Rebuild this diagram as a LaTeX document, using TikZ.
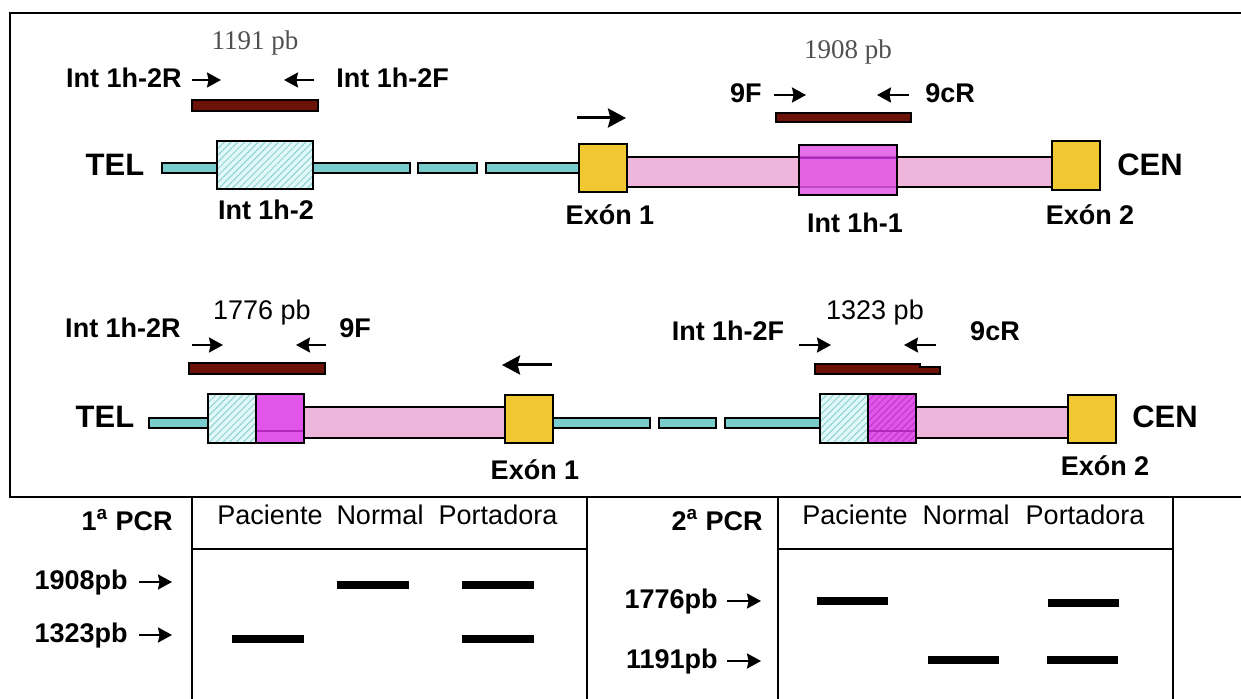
\documentclass[tikz,border=0pt]{standalone}
\usepackage{fontspec}
\setmainfont{Liberation Sans}
\newfontfamily\pbserif{Liberation Serif}
\usetikzlibrary{arrows.meta,patterns.meta}

\definecolor{tealbar}{RGB}{122,204,204}
\definecolor{hatchbg}{RGB}{226,247,247}
\definecolor{hatchln}{RGB}{140,212,212}
\definecolor{pinkbar}{RGB}{238,182,218}
\definecolor{magfill}{RGB}{224,86,232}
\definecolor{magline}{RGB}{176,40,190}
\definecolor{exongold}{RGB}{242,200,50}
\definecolor{ampred}{RGB}{108,18,8}
\definecolor{pbgray}{RGB}{80,80,80}

\begin{document}
\begin{tikzpicture}[x=0.5pt, y=-0.5pt,
    lbl/.style={font=\fontsize{13.5}{16}\selectfont\bfseries, inner sep=0pt, text height=0.72em, text depth=0pt},
    plain/.style={font=\fontsize{13.5}{16}\selectfont, inner sep=0pt, text height=0.72em, text depth=0pt},
    big/.style={font=\fontsize{15.5}{18}\selectfont\bfseries, inner sep=0pt, text height=0.72em, text depth=0pt},
    pbser/.style={font=\fontsize{13.5}{16}\selectfont\pbserif, text=pbgray, inner sep=0pt, text height=0.68em, text depth=0pt},
    cyanbar/.style={fill=tealbar, draw=black, line width=1pt},
    hatchbox/.style={preaction={fill=hatchbg}, pattern={Lines[angle=45,distance=2.4pt,line width=0.5pt]}, pattern color=hatchln, draw=black, line width=1pt},
    hatchmag/.style={preaction={fill=magfill}, pattern={Lines[angle=45,distance=2.4pt,line width=0.5pt]}, pattern color=magline!70!magfill, draw=black, line width=1pt},
    pinkseg/.style={fill=pinkbar, draw=black, line width=1pt},
    magbox/.style={fill=magfill, draw=black, line width=1pt},
    exonbox/.style={fill=exongold, draw=black, line width=1pt},
    ampbar/.style={fill=ampred, draw=black, line width=0.6pt},
    primer/.style={-{Stealth[length=7pt,width=7.5pt,inset=0.8pt]}, line width=1.1pt},
    dirarrow/.style={-{Stealth[length=9pt,width=9.5pt,inset=1.2pt]}, line width=1.5pt},
    band/.style={line width=3.6pt},
    rule/.style={line width=1pt}]
    \useasboundingbox (0,0) rectangle (1241,699);

    % Marco superior
    \draw[line width=1.2pt] (1250,13) -- (10,13) -- (10,497) -- (1250,497);

    % Fila 1: cromosoma normal
    \draw[cyanbar] (162,163) rectangle (217,173);
    \draw[hatchbox] (217,141) rectangle (313,189);
    \draw[cyanbar] (313,163) rectangle (410,173);
    \draw[cyanbar] (418,163) rectangle (477,173);
    \draw[cyanbar] (486,163) rectangle (579,173);
    \draw[pinkseg] (627,157) rectangle (1052,187);
    \draw[exonbox] (579,144) rectangle (627,192);
    \draw[magbox, fill opacity=.85] (799,145) rectangle (897,195);
    \draw[magline, line width=.6pt] (800,158) -- (896,158);
    \draw[exonbox] (1052,141) rectangle (1100,190);

    \node[big] (tel1) at (115,168) {TEL};
    \node[big] (cen1) at (1150,168) {CEN};
    \node[lbl] (int2a) at (266,212) {Int 1h-2};
    \node[lbl] (exa1) at (610,217) {Exón 1};
    \node[lbl] (int1a) at (855,225) {Int 1h-1};
    \node[lbl] (exa2) at (1090,217) {Exón 2};

    % Cebadores fila 1
    \node[pbser] (pb1191) at (255,43) {1191 pb};
    \node[lbl, anchor=east] (r2a) at (182,80) {Int 1h-2R};
    \draw[primer] (192,80) -- (221,80);
    \draw[primer] (314,80) -- (284,80);
    \node[lbl, anchor=west] (f2a) at (336,80) {Int 1h-2F};
    \draw[ampbar] (192,100) rectangle (318,111);

    \node[pbser] (pb1908) at (848,52) {1908 pb};
    \node[lbl, anchor=east] (f9a) at (762,95) {9F};
    \draw[primer] (774,95) -- (806,95);
    \draw[primer] (909,95) -- (877,95);
    \node[lbl, anchor=west] (r9a) at (925,95) {9cR};
    \draw[ampbar] (776,113) rectangle (911,122);

    \draw[dirarrow] (577,118) -- (626,118);

    % Fila 2: cromosoma con inversion
    \draw[cyanbar] (149,418) rectangle (208,428);
    \draw[hatchbox] (208,394) rectangle (256,443);
    \draw[magbox] (256,394) rectangle (304,443);
    \draw[magline, line width=.6pt] (257,431) -- (303,431);
    \draw[pinkseg] (304,407) rectangle (505,438);
    \draw[exonbox] (505,395) rectangle (553,443);
    \draw[cyanbar] (553,418) rectangle (650,428);
    \draw[cyanbar] (659,418) rectangle (716,428);
    \draw[cyanbar] (725,418) rectangle (820,428);
    \draw[hatchbox] (820,394) rectangle (868,443);
    \draw[hatchmag] (868,394) rectangle (916,443);
    \draw[magline, line width=.6pt] (869,431) -- (915,431);
    \draw[pinkseg] (916,407) rectangle (1068,438);
    \draw[exonbox] (1068,395) rectangle (1116,443);

    \node[big] (tel2) at (105,420) {TEL};
    \node[big] (cen2) at (1165,420) {CEN};
    \node[lbl] (exb1) at (535,472) {Exón 1};
    \node[lbl] (exb2) at (1105,468) {Exón 2};

    % Cebadores fila 2
    \node[plain] (pb1776) at (262,312) {1776 pb};
    \node[lbl] (r2b) at (123,330) {Int 1h-2R};
    \draw[primer] (192,345) -- (223,345);
    \draw[primer] (326,345) -- (296,345);
    \node[lbl] (f9b) at (355,330) {9F};
    \draw[ampbar] (189,363) rectangle (325,374);

    \node[plain] (pb1323) at (875,312) {1323 pb};
    \node[lbl] (f2b) at (728,333) {Int 1h-2F};
    \draw[primer] (799,345) -- (831,345);
    \draw[primer] (936,345) -- (904,345);
    \node[lbl] (r9b) at (995,333) {9cR};
    \draw[ampbar] (815,364) -- (920,364) -- (920,367) -- (940,367) -- (940,374) -- (815,374) -- cycle;

    \draw[dirarrow] (552,365) -- (502,365);

    % Tabla 1a PCR
    \draw[rule] (192,497) -- (192,702);
    \draw[rule] (587,497) -- (587,702);
    \draw[rule] (192,549) -- (587,549);
    \node[lbl, anchor=east] (pcr1) at (173,523) {1\textsuperscript{a} PCR};
    \node[plain] (pac1) at (270,517) {Paciente};
    \node[plain] (nor1) at (380,517) {Normal};
    \node[plain] (por1) at (498,517) {Portadora};
    \node[lbl, anchor=east] (s1908) at (128,582) {1908pb};
    \draw[primer] (139,582) -- (172,582);
    \node[lbl, anchor=east] (s1323) at (128,635) {1323pb};
    \draw[primer] (139,635) -- (172,635);
    \draw[band] (337,585) -- (409,585);
    \draw[band] (462,585) -- (534,585);
    \draw[band] (232,639) -- (304,639);
    \draw[band] (462,639) -- (534,639);

    % Tabla 2a PCR
    \draw[rule] (778,497) -- (778,702);
    \draw[rule] (1173,497) -- (1173,702);
    \draw[rule] (778,549) -- (1173,549);
    \node[lbl, anchor=east] (pcr2) at (763,523) {2\textsuperscript{a} PCR};
    \node[plain] (pac2) at (855,517) {Paciente};
    \node[plain] (nor2) at (966,517) {Normal};
    \node[plain] (por2) at (1085,517) {Portadora};
    \node[lbl, anchor=east] (s1776) at (718,601) {1776pb};
    \draw[primer] (727,601) -- (761,601);
    \node[lbl, anchor=east] (s1191) at (718,661) {1191pb};
    \draw[primer] (727,661) -- (761,661);
    \draw[band] (817,601) -- (888,601);
    \draw[band] (1048,603) -- (1119,603);
    \draw[band] (928,660) -- (999,660);
    \draw[band] (1047,660) -- (1118,660);
\end{tikzpicture}
\end{document}
